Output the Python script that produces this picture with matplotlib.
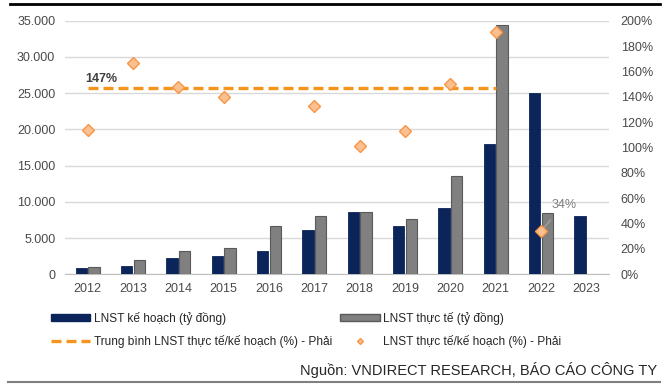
import numpy as np
import matplotlib
matplotlib.use("Agg")
import matplotlib.pyplot as plt
from matplotlib.patches import Patch
from matplotlib.lines import Line2D

plt.rcParams['font.family'] = ['Liberation Sans', 'DejaVu Sans']

years = ['2012', '2013', '2014', '2015', '2016', '2017',
         '2018', '2019', '2020', '2021', '2022', '2023']
lnst_plan = [900, 1200, 2300, 2500, 3250, 6150, 8650, 6700, 9100, 18000, 25000, 8000]
lnst_actual = [1050, 2000, 3250, 3600, 6700, 8000, 8650, 7700, 13500, 34450, 8500, np.nan]
ratio_pct = [114, 167, 148, 140, 206, 133, 101, 113, 150, 191, 34, np.nan]
avg_pct = 147

navy = '#0b2459'
grey = '#808080'
orange = '#f7941d'
text_col = '#4a4a4a'

fig = plt.figure(figsize=(6.71, 3.87), dpi=100)
ax = fig.add_axes([65 / 671, 1 - 274.3 / 387, 544 / 671, 253.6 / 387])
ax2 = ax.twinx()

x = np.arange(len(years))
w = 0.25
ax.bar(x - 0.14, lnst_plan, w, color=navy, edgecolor=navy, lw=0.6, zorder=3)
ax.bar(x + 0.14, lnst_actual, w, color=grey, edgecolor='#5a5a5a', lw=0.8, zorder=3)

ax.set_xlim(-0.5, len(years) - 0.5)
ax.set_ylim(0, 35000)
ax.set_yticks(np.arange(0, 35001, 5000))
ax.set_yticklabels([f'{v:,}'.replace(',', '.') for v in range(0, 35001, 5000)])
ax.set_xticks(x)
ax.set_xticklabels(years)
ax.grid(axis='y', color='#d9d9d9', lw=1, zorder=0)
ax.tick_params(axis='y', length=0, pad=7, labelsize=9, labelcolor=text_col)
ax.tick_params(axis='x', length=0, pad=6, labelsize=9, labelcolor=text_col)
for s in ['top', 'left', 'right']:
    ax.spines[s].set_visible(False)
ax.spines['bottom'].set_color('#bfbfbf')

# right axis: ratio
ax2.set_ylim(0, 200)
ax2.set_yticks(np.arange(0, 201, 20))
ax2.set_yticklabels([f'{v}%' for v in range(0, 201, 20)])
ax2.tick_params(axis='y', length=0, pad=8.5, labelsize=9, labelcolor=text_col)
for s in ax2.spines.values():
    s.set_visible(False)

ax2.plot([x[0], x[9]], [avg_pct, avg_pct], color=orange, lw=2.4,
         dashes=(3, 1.5), zorder=4)
ax2.plot(x, ratio_pct, ls='none', marker='D', ms=6.5, mfc='#fac090',
         mec='#f79646', mew=1, zorder=5)
ax2.text(-0.05, avg_pct + 2, f'{avg_pct}%', fontsize=9, fontweight='bold',
         color='#404040', ha='left', va='bottom')
ax2.annotate('34%', xy=(10, ratio_pct[10]), xytext=(10.5, 55),
             fontsize=9, color='#7f7f7f', ha='center', va='center',
             arrowprops=dict(arrowstyle='-', color='#a6a6a6', lw=0.8,
                             shrinkA=6, shrinkB=2))

handles = [
    Patch(facecolor=navy, edgecolor=navy),
    Line2D([], [], color=orange, lw=2.4, dashes=(3, 1.5)),
    Patch(facecolor=grey, edgecolor='#5a5a5a'),
    Line2D([], [], ls='none', marker='D', ms=3, mfc='#fac090', mec='#f79646'),
]
labels = [
    'LNST kế hoạch (tỷ đồng)',
    'Trung bình LNST thực tế/kế hoạch (%) - Phải',
    'LNST thực tế (tỷ đồng)',
    'LNST thực tế/kế hoạch (%) - Phải',
]
fig.legend(handles, labels, ncol=2, loc='upper left',
           bbox_to_anchor=(40 / 671, 1 - 301 / 387), frameon=False,
           fontsize=8.6, labelcolor='#262626', handlelength=3.3,
           handleheight=0.6, handletextpad=0.3, labelspacing=0.85,
           columnspacing=0.7)

fig.text(657 / 671, 1 - 370 / 387, 'Nguồn: VNDIRECT RESEARCH, BÁO CÁO CÔNG TY',
         ha='right', va='center', fontsize=10.5, color='#262626')

# frame rules top and bottom
fig.add_artist(Line2D([10 / 671, 660 / 671], [1 - 4 / 387] * 2, color='black', lw=2))
fig.add_artist(Line2D([8 / 671, 660 / 671], [1 - 382 / 387] * 2, color='#7f7f7f', lw=1.5))

fig.savefig('out.png', dpi=100)
